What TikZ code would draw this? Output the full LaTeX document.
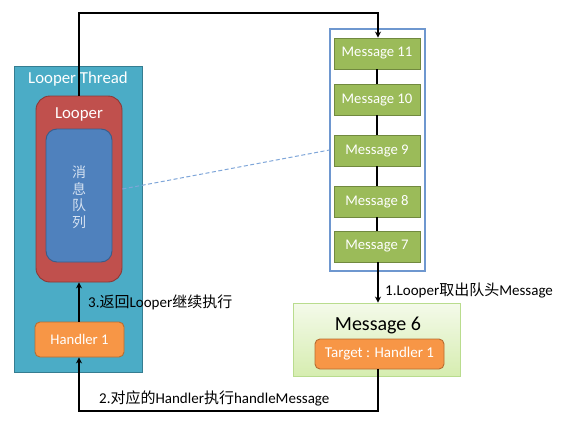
\documentclass[tikz,border=0pt]{standalone}
\usepackage{fontspec}
\setmainfont{Carlito}
\newfontfamily\cjk{Noto Sans CJK SC}
\usetikzlibrary{arrows.meta,shadows}
\definecolor{teal}{HTML}{4BACC6}
\definecolor{tealB}{HTML}{357D91}
\definecolor{redF}{HTML}{C0504D}
\definecolor{redB}{HTML}{8C3836}
\definecolor{blueF}{HTML}{4F81BD}
\definecolor{blueB}{HTML}{385D8A}
\definecolor{orangeF}{HTML}{F79646}
\definecolor{orangeB}{HTML}{B66D31}
\definecolor{greenF}{HTML}{9BBB59}
\definecolor{greenB}{HTML}{71893F}
\definecolor{contB}{HTML}{6E97CF}
\definecolor{qtext}{HTML}{D5E2F2}
\definecolor{m6top}{HTML}{F4FAEA}
\definecolor{m6bot}{HTML}{D6EDB0}
\definecolor{m6B}{HTML}{B9DC8E}
\definecolor{dashC}{HTML}{7FA6D9}
\begin{document}
\begin{tikzpicture}[x=1pt,y=-1pt,
  box/.style={draw, line width=0.9pt, inner sep=0pt, text=white},
  msgbox/.style={box, fill=greenF, draw=greenB, minimum width=86pt, minimum height=31pt, font=\fontsize{14.7}{16}\selectfont},
  conn/.style={line width=1.4pt, black},
  arr/.style={conn, -{Stealth[length=6pt,width=6pt]}},
  lbl/.style={anchor=west, inner sep=0pt, font=\fontsize{15}{17}\selectfont}]
\useasboundingbox (0,0) rectangle (576,423);
% Looper thread
\node[box, fill=teal, draw=tealB, minimum width=128pt, minimum height=306pt] (thread) at (78,219) {};
\node[text=white, inner sep=0pt, font=\fontsize{16.8}{18}\selectfont] (threadlbl) at (78,79) {Looper Thread};
\node[box, fill=redF, draw=redB, rounded corners=14pt, minimum width=86pt, minimum height=186pt] (looper) at (79,189) {};
\node[text=white, inner sep=0pt, font=\fontsize{16.8}{18}\selectfont] (looperlbl) at (79,114) {Looper};
\node[box, fill=blueF, draw=blueB, rounded corners=11pt, minimum width=66pt, minimum height=133pt] (queue) at (79,195.5) {};
\node[text=qtext, inner sep=0pt, align=center, font=\cjk\fontsize{14}{16.5}\selectfont] (qlbl) at (79,197) {消\\息\\队\\列};
\node[box, fill=orangeF, draw=orangeB, rounded corners=5pt, minimum width=89pt, minimum height=35pt, font=\fontsize{14.7}{16}\selectfont] (handler) at (79.5,339.5) {Handler 1};
% message queue
\node[draw=contB, line width=1.1pt, minimum width=95pt, minimum height=242pt, inner sep=0pt] (cont) at (377.5,150) {};
\node[msgbox] (m11) at (377,53.5) {Message 11};
\node[msgbox] (m10) at (377,99.5) {Message 10};
\node[msgbox] (m9) at (377,150.5) {Message 9};
\node[msgbox] (m8) at (377,201.5) {Message 8};
\node[msgbox] (m7) at (377,246.5) {Message 7};
\draw[conn] (m11) -- (m10);
\draw[conn] (m10) -- (m9);
\draw[conn] (m9) -- (m8);
\draw[conn] (m8) -- (m7);
% Message 6
\node[draw=m6B, line width=0.9pt, top color=m6top, bottom color=m6bot, minimum width=167pt, minimum height=73pt, inner sep=0pt, drop shadow={shadow xshift=1pt, shadow yshift=-1pt, opacity=0.25}] (m6) at (376.5,339.5) {};
\node[inner sep=0pt, font=\fontsize{20}{22}\selectfont] (m6lbl) at (378,325) {Message 6};
\node[box, fill=orangeF, draw=orangeB, rounded corners=5pt, minimum width=129pt, minimum height=30pt, font=\fontsize{15}{17}\selectfont] (target) at (379.5,354) {Target : Handler 1};
% connectors
\coordinate (c1) at (79,13);
\coordinate (c2) at (378,13);
\draw[arr] (looper.north -| c1) -- (c1) -- (c2) -- (m11.north -| c2);
\draw[arr] (m7.south -| c2) -- (m6.north -| c2);
\coordinate (c3) at (378,411);
\coordinate (c4) at (79,411);
\draw[arr] (target.south -| c3) -- (c3) -- (c4) -- (handler.south -| c4);
\draw[arr] (handler.north -| c4) -- (looper.south -| c4);
\draw[dashC, line width=1pt, dash pattern=on 4pt off 2.5pt] (looper.east) -- (cont.west);
% labels
\node[lbl] (l1) at (385,290) {1.Looper{\cjk 取出队头}Message};
\node[lbl] (l2) at (99,398) {2.{\cjk 对应的}Handler{\cjk 执行}handleMessage};
\node[lbl] (l3) at (88,302) {3.{\cjk 返回}Looper{\cjk 继续执行}};
\end{tikzpicture}
\end{document}
